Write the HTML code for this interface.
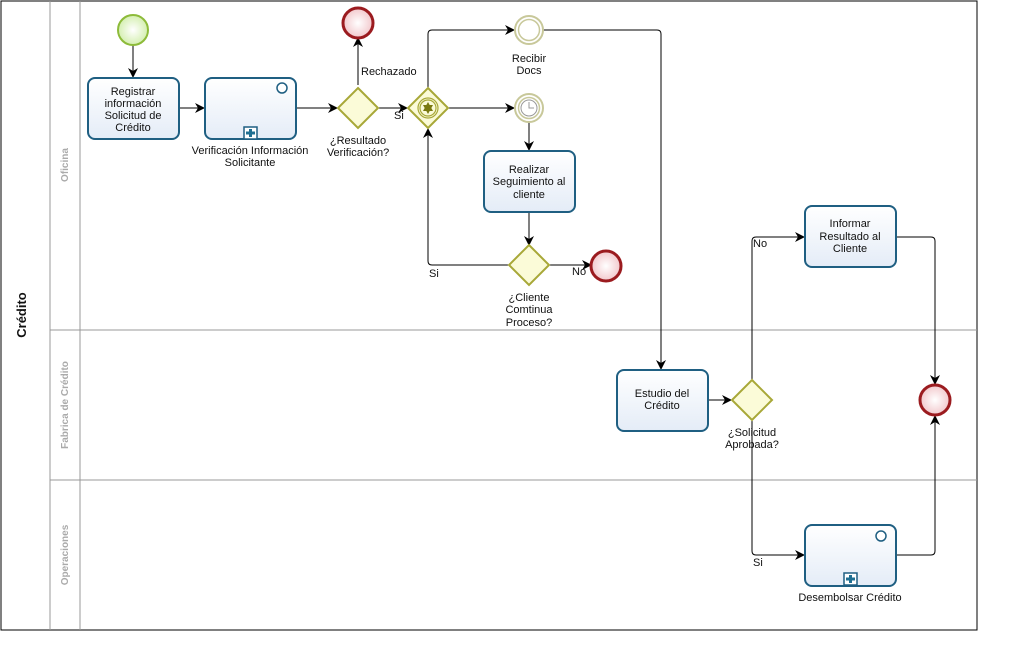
<!DOCTYPE html>
<html><head><meta charset="utf-8"><style>
html,body{margin:0;padding:0;background:#fff;width:1017px;height:669px;overflow:hidden}
svg text{font-family:"Liberation Sans",sans-serif;font-size:11px;fill:#111}
</style></head><body>
<svg width="1017" height="669" viewBox="0 0 1017 669" xmlns="http://www.w3.org/2000/svg">
<defs>
<marker id="a" markerWidth="10" markerHeight="10" refX="9" refY="5" orient="auto" markerUnits="userSpaceOnUse"><path d="M0,0 L10,5 L0,10 L3,5 z" fill="#000"/></marker>
<linearGradient id="tg" x1="0" y1="0" x2="0" y2="1"><stop offset="0" stop-color="#fff"/><stop offset="1" stop-color="#e4ecf7"/></linearGradient>
<radialGradient id="rg"><stop offset="0" stop-color="#fff"/><stop offset="1" stop-color="#f2c8cc"/></radialGradient>
<radialGradient id="gg"><stop offset="0" stop-color="#fff"/><stop offset="1" stop-color="#d4efb0"/></radialGradient>
</defs>
<rect x="1" y="1" width="976" height="629" fill="#fff" stroke="#000" stroke-width="1"/>
<line x1="50" y1="1" x2="50" y2="630" stroke="#999"/>
<line x1="80" y1="1" x2="80" y2="630" stroke="#999"/>
<line x1="50" y1="330" x2="977" y2="330" stroke="#999"/>
<line x1="50" y1="480" x2="977" y2="480" stroke="#999"/>
<text x="26" y="315" transform="rotate(-90 26 315)" text-anchor="middle" style="font-weight:bold;font-size:13px">Crédito</text>
<text x="68" y="165" transform="rotate(-90 68 165)" text-anchor="middle" style="fill:#aaa;font-weight:bold;font-size:10px">Oficina</text>
<text x="68" y="405" transform="rotate(-90 68 405)" text-anchor="middle" style="fill:#aaa;font-weight:bold;font-size:10px">Fabrica de Crédito</text>
<text x="68" y="555" transform="rotate(-90 68 555)" text-anchor="middle" style="fill:#aaa;font-weight:bold;font-size:10px">Operaciones</text>

<g fill="none" stroke="#000" stroke-width="1">
<path d="M133 45 V77" marker-end="url(#a)"/>
<path d="M179 108 H204" marker-end="url(#a)"/>
<path d="M296 108 H337" marker-end="url(#a)"/>
<path d="M358 85 V38" marker-end="url(#a)"/>
<path d="M378 108 H407" marker-end="url(#a)"/>
<path d="M428 88 V34 Q428 30 432 30 H514" marker-end="url(#a)"/>
<path d="M448 108 H514" marker-end="url(#a)"/>
<path d="M529 122 V150" marker-end="url(#a)"/>
<path d="M529 212 V245" marker-end="url(#a)"/>
<path d="M509 265 H432 Q428 265 428 261 V129" marker-end="url(#a)"/>
<path d="M549 265 H591" marker-end="url(#a)"/>
<path d="M543 30 H657 Q661 30 661 34 V369" marker-end="url(#a)"/>
<path d="M708 400 H731" marker-end="url(#a)"/>
<path d="M752 380 V241 Q752 237 756 237 H804" marker-end="url(#a)"/>
<path d="M752 420 V551 Q752 555 756 555 H804" marker-end="url(#a)"/>
<path d="M896 237 H931 Q935 237 935 241 V384" marker-end="url(#a)"/>
<path d="M896 555 H931 Q935 555 935 551 V416" marker-end="url(#a)"/>
</g>

<circle cx="133" cy="30" r="15" fill="url(#gg)" stroke="#8dbb3a" stroke-width="2"/>
<circle cx="358" cy="23" r="15" fill="url(#rg)" stroke="#9b1b1f" stroke-width="3"/>
<circle cx="606" cy="266" r="15" fill="url(#rg)" stroke="#9b1b1f" stroke-width="3"/>
<circle cx="935" cy="400" r="15" fill="url(#rg)" stroke="#9b1b1f" stroke-width="3"/>

<circle cx="529" cy="30" r="14" fill="#fff" stroke="#c8c89a" stroke-width="2"/>
<circle cx="529" cy="30" r="10.5" fill="#fff" stroke="#c8c89a" stroke-width="1.5"/>
<circle cx="529" cy="108" r="14" fill="#fff" stroke="#c8c89a" stroke-width="2"/>
<circle cx="529" cy="108" r="10.5" fill="#fff" stroke="#c8c89a" stroke-width="1.5"/>
<circle cx="529" cy="108" r="8" fill="#fff" stroke="#999" stroke-width="1"/>
<path d="M529 102 V108 H534" stroke="#999" fill="none"/>

<g stroke="#1f5f82" stroke-width="2" fill="url(#tg)">
<rect x="88" y="78" width="91" height="61" rx="7"/>
<rect x="205" y="78" width="91" height="61" rx="7"/>
<rect x="484" y="151" width="91" height="61" rx="7"/>
<rect x="617" y="370" width="91" height="61" rx="7"/>
<rect x="805" y="206" width="91" height="61" rx="7"/>
<rect x="805" y="525" width="91" height="61" rx="7"/>
</g>
<g stroke="#1f5f82" stroke-width="1.5" fill="#fff">
<circle cx="282" cy="88" r="5"/>
<circle cx="881" cy="536" r="5"/>
<rect x="244" y="127" width="13" height="12"/>
<rect x="844" y="573" width="13" height="12"/>
</g>
<g stroke="#1f6f92" stroke-width="3">
<path d="M250.5 129 V137 M246 133 H255"/>
<path d="M850.5 575 V583 M846 579 H855"/>
</g>

<g fill="#fbfbd8" stroke="#a8a838" stroke-width="2">
<path d="M358 88 L378 108 L358 128 L338 108 z"/>
<path d="M428 88 L448 108 L428 128 L408 108 z"/>
<path d="M529 245 L549 265 L529 285 L509 265 z"/>
<path d="M752 380 L772 400 L752 420 L732 400 z"/>
</g>
<circle cx="428" cy="108" r="10" fill="none" stroke="#a8a838" stroke-width="1.2"/>
<circle cx="428" cy="108" r="8" fill="none" stroke="#a8a838" stroke-width="1.2"/>
<path d="M428 102 L433 111 L423 111 z M428 114 L423 105 L433 105 z" fill="#7a7a10"/>

<g text-anchor="middle">
<text x="133" y="95">Registrar</text><text x="133" y="107">información</text><text x="133" y="119">Solicitud de</text><text x="133" y="131">Crédito</text>
<text x="250" y="154">Verificación Información</text><text x="250" y="166">Solicitante</text>
<text x="358" y="144">¿Resultado</text><text x="358" y="156">Verificación?</text>
<text x="529" y="62">Recibir</text><text x="529" y="74">Docs</text>
<text x="529" y="173">Realizar</text><text x="529" y="185">Seguimiento al</text><text x="529" y="198">cliente</text>
<text x="529" y="301">¿Cliente</text><text x="529" y="313">Comtinua</text><text x="529" y="326">Proceso?</text>
<text x="662" y="397">Estudio del</text><text x="662" y="409">Crédito</text>
<text x="752" y="436">¿Solicitud</text><text x="752" y="448">Aprobada?</text>
<text x="850" y="227">Informar</text><text x="850" y="240">Resultado al</text><text x="850" y="252">Cliente</text>
<text x="850" y="601">Desembolsar Crédito</text>
</g>
<text x="361" y="75">Rechazado</text>
<text x="394" y="119">Si</text>
<text x="429" y="277">Si</text>
<text x="572" y="275">No</text>
<text x="753" y="247">No</text>
<text x="753" y="566">Si</text>
</svg>
</body></html>
